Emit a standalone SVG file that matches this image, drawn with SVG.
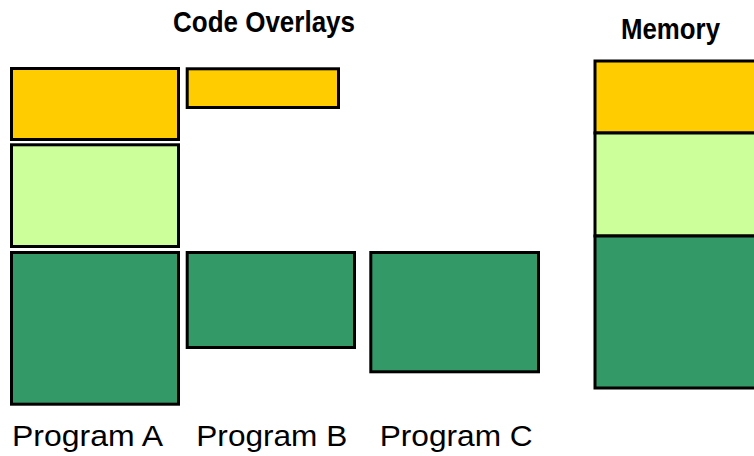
<svg xmlns="http://www.w3.org/2000/svg" width="754" height="456" viewBox="0 0 754 456">
  <style>
    .blk { stroke: #000; stroke-width: 3; }
    .ovl { fill: #FFCC00; }
    .lgt { fill: #CCFF99; }
    .drk { fill: #339966; }
    .title { font-family: "Liberation Sans Narrow", "Liberation Sans", Arial, sans-serif; font-weight: bold; font-size: 30px; fill: #000; }
    .label { font-family: "Liberation Sans", Arial, sans-serif; font-size: 30px; fill: #000; }
  </style>
  <rect width="754" height="456" fill="#fff"/>

  <text class="title" x="173" y="32" textLength="182" lengthAdjust="spacingAndGlyphs">Code Overlays</text>
  <text class="title" x="621" y="39" textLength="99" lengthAdjust="spacingAndGlyphs">Memory</text>

  <g id="program-a">
    <rect class="blk ovl" x="11.5" y="68.5" width="167" height="71"/>
    <rect class="blk lgt" x="11.5" y="144.8" width="167" height="101.7"/>
    <rect class="blk drk" x="11.5" y="252.5" width="167" height="151.7"/>
    <text class="label" x="12" y="446" textLength="151" lengthAdjust="spacingAndGlyphs">Program A</text>
  </g>

  <g id="program-b">
    <rect class="blk ovl" x="187.2" y="68.8" width="151.3" height="38.7"/>
    <rect class="blk drk" x="187.2" y="252.5" width="167.3" height="95"/>
    <text class="label" x="196.3" y="446" textLength="151" lengthAdjust="spacingAndGlyphs">Program B</text>
  </g>

  <g id="program-c">
    <rect class="blk drk" x="370.8" y="252.5" width="167.7" height="119.3"/>
    <text class="label" x="379.7" y="446" textLength="153" lengthAdjust="spacingAndGlyphs">Program C</text>
  </g>

  <g id="memory">
    <rect class="blk ovl" x="595" y="61" width="170" height="72"/>
    <rect class="blk lgt" x="595" y="133" width="170" height="103"/>
    <rect class="blk drk" x="595" y="236" width="170" height="152"/>
  </g>

  <g id="connectors"/>
</svg>
